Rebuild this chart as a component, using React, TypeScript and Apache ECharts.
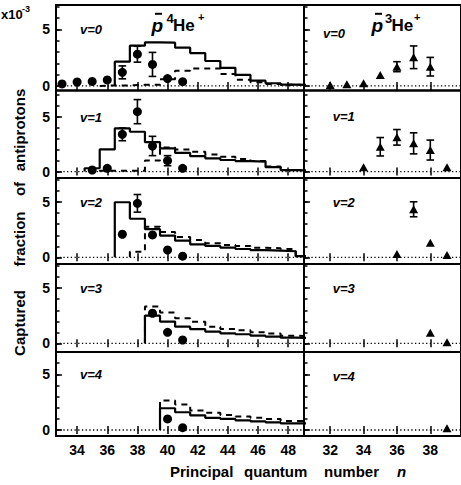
import React, { useEffect, useRef } from "react";
import * as echarts from "echarts";

// ---------- data ----------
const vLabels = ["v=0", "v=1", "v=2", "v=3", "v=4"];
const xTicksLeft = [34, 36, 38, 40, 42, 44, 46, 48];
const xTicksRight = [32, 34, 36, 38];
const yTickLabels = [0, 5];
const yMinorTicks = [0, 1, 2, 3, 4, 5, 6, 7];

// pbar-4He measured points (first n, then consecutive n)
const he4DotStart = [33, 35, 37, 39, 40];
const he4Dots = [
  [0.18, 0.35, 0.4, 0.53, 1.2, 2.8, 1.9, 0.65, 0.38],
  [0.14, 0.29, 3.39, 5.46, 2.33, 0.99, 0.29],
  [2.09, 4.9, 2.03, 0.66, 0.1],
  [2.73, 1.0, 0.3],
  [0.99, 0.21],
];
const he4Errs = [
  [0, 0, 0, 0, 0.57, 0.7, 1.06, 0, 0],
  [0, 0, 0.58, 1.1, 0.88, 0.46, 0],
  [0, 0.8, 0, 0, 0],
  [0, 0, 0],
  [0, 0],
];

// calculated distributions (unit bins), start = left edge of first bin
const solidStart = [36.5, 34.5, 36.5, 38.5, 39.5];
const solidHist = [
  [2.14, 3.55, 3.85, 3.82, 3.38, 2.9, 2.2, 1.6, 0.97, 0.47, 0.24, 0.12, 0.1],
  [0.3, 2.02, 3.94, 3.63, 2.68, 2.12, 1.7, 1.4, 1.2, 1.05, 0.95, 0.9, 0.4, 0.13, 0.1],
  [5.0, 3.5, 2.55, 1.97, 1.51, 1.18, 1.03, 0.87, 0.75, 0.65, 0.6, 0.55, 0.1],
  [2.51, 1.97, 1.51, 1.28, 1.06, 0.91, 0.82, 0.69, 0.6, 0.51, 0.48],
  [1.95, 1.59, 1.32, 1.08, 0.99, 0.87, 0.78, 0.69, 0.6, 0.58],
];
const dashStart = [35.5, 35.5, 37.5, 38.5, 39.5];
const dashHist = [
  [0.05, 0.05, 0.1, 0.1, 0.6, 1.35, 1.55, 1.55, 1.05, 0.55, 0.33, 0.18, 0.1, 0.08],
  [0.07, 0.07, 0.07, 1.0, 2.2, 2.0, 1.8, 1.55, 1.35, 1.15, 0.95, 0.45, 0.15, 0.1],
  [0.5, 2.78, 2.3, 1.85, 1.57, 1.27, 1.12, 1.03, 0.87, 0.82, 0.75, 0.1],
  [3.33, 2.8, 2.27, 1.95, 1.51, 1.3, 1.18, 1.0, 0.88, 0.69, 0.65],
  [2.65, 2.28, 1.75, 1.55, 1.35, 1.2, 1.1, 0.99, 0.81, 0.78],
];

// pbar-3He measured points
const he3N = [
  [32, 33, 34, 35, 36, 37, 38],
  [34, 35, 36, 37, 38, 39],
  [36, 37, 38, 39],
  [38, 39],
  [39],
];
const he3Vals = [
  [0.09, 0.15, 0.24, 0.97, 1.7, 2.53, 1.7],
  [0.38, 2.26, 3.12, 2.57, 1.96, 0.38],
  [0.3, 4.36, 1.33, 0.21],
  [0.96, 0.1],
  [0.15],
];
const he3Errs = [
  [0, 0, 0, 0, 0.44, 1.0, 0.82],
  [0, 0.84, 0.71, 0.96, 0.91, 0],
  [0, 0.68, 0, 0],
  [0, 0],
  [0],
];

const yTitleWords = ["Captured", "fraction", "of", "antiprotons"];
const xTitleWords = ["Principal", "quantum", "number"];

// ---------- layout ----------
const FONT = '"Liberation Sans", Arial, sans-serif';
const rowTop = [5, 90.5, 178, 264, 352];
const rowH = [85.5, 87.5, 86, 88, 84];
const yMin = [-0.4, -0.59, -0.61, -0.79, -0.54];
const yMax = [7.14, 7.39, 7.2, 7.2, 7.0];
const leftRange = [32.6, 49.05];
const rightRange = [30.43, 39.84];
const yTitleCenters = [323, 239, 189, 130];
const xTitleLefts = [170, 244, 324];

function stepData(start: number, vals: number[]) {
  const pts: number[][] = [[start, 0]];
  vals.forEach((v, i) => pts.push([start + i, v]));
  pts.push([start + vals.length, vals[vals.length - 1]]);
  return pts;
}

const errRender = (params: any, api: any) => {
  const x = api.value(0);
  const y = api.value(1);
  const e = api.value(2);
  const t = api.coord([x, y + e]);
  const b = api.coord([x, y - e]);
  const w = 3.8;
  const st = { stroke: "#000", lineWidth: 1.6 };
  return {
    type: "group",
    children: [
      { type: "line", shape: { x1: t[0], y1: t[1], x2: b[0], y2: b[1] }, style: st },
      { type: "line", shape: { x1: t[0] - w, y1: t[1], x2: t[0] + w, y2: t[1] }, style: st },
      { type: "line", shape: { x1: b[0] - w, y1: b[1], x2: b[0] + w, y2: b[1] }, style: st },
    ],
  };
};

function buildOption() {
  const grid: any[] = [];
  const xAxis: any[] = [];
  const yAxis: any[] = [];
  const series: any[] = [];
  const tickStyle = { color: "#000", width: 1.5 };
  const labelStyle = { color: "#000", fontSize: 14, fontWeight: "bold", fontFamily: FONT };

  for (let r = 0; r < 5; r++) {
    for (let c = 0; c < 2; c++) {
      const g = r * 2 + c;
      const range = c === 0 ? leftRange : rightRange;
      const ticks = c === 0 ? xTicksLeft : xTicksRight;
      grid.push({
        left: c === 0 ? 56 : 304,
        top: rowTop[r],
        width: c === 0 ? 248 : 160,
        height: rowH[r],
        show: true,
        borderColor: "#000",
        borderWidth: 2,
        backgroundColor: "transparent",
      });
      ["bottom", "top"].forEach((pos) => {
        xAxis.push({
          gridIndex: g,
          type: "value",
          min: range[0],
          max: range[1],
          position: pos,
          axisLine: { show: false },
          splitLine: { show: false },
          axisTick: { show: true, inside: true, length: 4, customValues: ticks, lineStyle: tickStyle },
          axisLabel: {
            show: pos === "bottom" && r === 4,
            customValues: ticks,
            margin: 7,
            ...labelStyle,
          },
        });
      });
      yAxis.push({
        gridIndex: g,
        type: "value",
        min: yMin[r],
        max: yMax[r],
        position: "left",
        axisLine: { show: false },
        splitLine: { show: false },
        axisTick: { show: true, inside: true, length: 3.5, customValues: yMinorTicks, lineStyle: tickStyle },
        axisLabel: { show: c === 0, customValues: yTickLabels, margin: 6, ...labelStyle },
      });
      yAxis.push({
        gridIndex: g,
        type: "value",
        min: yMin[r],
        max: yMax[r],
        position: "left",
        axisLine: { show: false },
        splitLine: { show: false },
        axisTick: { show: true, inside: true, length: 6, customValues: yTickLabels, lineStyle: tickStyle },
        axisLabel: { show: false },
      });
      // zero dotted line
      series.push({
        type: "line",
        xAxisIndex: 2 * g,
        yAxisIndex: 2 * g,
        data: [[range[0], 0], [range[1], 0]],
        symbol: "none",
        silent: true,
        lineStyle: { color: "#000", width: 1.3, type: [1.3, 2.4] },
        z: 1,
      });
    }
    const L = r * 2;
    const R = r * 2 + 1;
    series.push({
      type: "line",
      xAxisIndex: 2 * L,
      yAxisIndex: 2 * L,
      step: "end",
      data: stepData(solidStart[r], solidHist[r]),
      symbol: "none",
      lineStyle: { color: "#000", width: 2.2 },
      z: 3,
    });
    series.push({
      type: "line",
      xAxisIndex: 2 * L,
      yAxisIndex: 2 * L,
      step: "end",
      data: stepData(dashStart[r], dashHist[r]),
      symbol: "none",
      lineStyle: { color: "#000", width: 2, type: [6, 5] },
      z: 3,
    });
    const d4 = he4Dots[r].map((v, i) => [he4DotStart[r] + i, v, he4Errs[r][i]]);
    series.push({
      type: "custom",
      xAxisIndex: 2 * L,
      yAxisIndex: 2 * L,
      renderItem: errRender,
      data: d4.filter((d) => d[2] > 0),
      encode: { x: 0, y: 1 },
      z: 4,
    });
    series.push({
      type: "scatter",
      xAxisIndex: 2 * L,
      yAxisIndex: 2 * L,
      data: d4.map((d) => [d[0], d[1]]),
      symbol: "circle",
      symbolSize: 9,
      itemStyle: { color: "#000", opacity: 1 },
      z: 5,
    });
    const d3 = he3Vals[r].map((v, i) => [he3N[r][i], v, he3Errs[r][i]]);
    series.push({
      type: "custom",
      xAxisIndex: 2 * R,
      yAxisIndex: 2 * R,
      renderItem: errRender,
      data: d3.filter((d) => d[2] > 0),
      encode: { x: 0, y: 1 },
      z: 4,
    });
    series.push({
      type: "scatter",
      xAxisIndex: 2 * R,
      yAxisIndex: 2 * R,
      data: d3.map((d) => [d[0], d[1]]),
      symbol: "triangle",
      symbolSize: [9, 8],
      itemStyle: { color: "#000", opacity: 1 },
      z: 5,
    });
  }

  const txt = (text: string, x: number, y: number, size: number, extra: any = {}) => ({
    type: "text",
    x,
    y,
    z: 100,
    style: {
      text,
      fill: "#000",
      fontSize: size,
      fontWeight: "bold",
      fontFamily: FONT,
      align: "left",
      verticalAlign: "middle",
      ...extra,
    },
  });

  const vLeftY = [29.5, 117.5, 202.5, 288.5, 374.5];
  const vRightX = [323, 332.7, 332.7, 332.7, 332.7];
  const vRightY = [33.3, 116.7, 202.5, 288.7, 376];

  const graphic: any[] = [
    txt("x10", 1, 14.5, 13),
    txt("-3", 22, 8.5, 9),
    // left title
    txt("p", 151.5, 25, 19, { fontStyle: "italic" }),
    txt("4", 166.5, 18, 13),
    txt("He", 173, 25, 17),
    txt("+", 198, 16.5, 11),
    { type: "line", z: 100, shape: { x1: 155, y1: 13.8, x2: 162, y2: 13.8 }, style: { stroke: "#000", lineWidth: 2 } },
    // right title
    txt("p", 371.5, 25, 19, { fontStyle: "italic" }),
    txt("3", 385, 18, 13),
    txt("He", 391.5, 25, 17),
    txt("+", 414, 16.5, 11),
    { type: "line", z: 100, shape: { x1: 375, y1: 13.8, x2: 382, y2: 13.8 }, style: { stroke: "#000", lineWidth: 2 } },
    txt("n", 397, 471, 15, { fontStyle: "italic" }),
  ];
  yTitleWords.forEach((w, i) => {
    graphic.push({
      type: "text",
      x: 19,
      y: yTitleCenters[i],
      rotation: Math.PI / 2,
      z: 100,
      style: {
        text: w,
        fill: "#000",
        fontSize: 15,
        fontWeight: "bold",
        fontFamily: FONT,
        align: "center",
        verticalAlign: "middle",
      },
    });
  });
  xTitleWords.forEach((w, i) => graphic.push(txt(w, xTitleLefts[i], 471, 15)));
  for (let r = 0; r < 5; r++) {
    graphic.push(txt(vLabels[r], 80, vLeftY[r], 13, { fontStyle: "italic" }));
    graphic.push(txt(vLabels[r], vRightX[r], vRightY[r], 13, { fontStyle: "italic" }));
  }

  return {
    animation: false,
    backgroundColor: "#fff",
    grid,
    xAxis,
    yAxis,
    series,
    graphic: { elements: graphic },
  };
}

export default function App() {
  const ref = useRef<HTMLDivElement>(null);
  useEffect(() => {
    if (!ref.current) return;
    const chart = echarts.init(ref.current, undefined, { renderer: "svg" });
    chart.setOption(buildOption() as any);
    return () => chart.dispose();
  }, []);
  return (
    <div
      ref={ref}
      style={{ position: "absolute", left: 0, top: 0, width: 461, height: 485, background: "#fff" }}
    />
  );
}
